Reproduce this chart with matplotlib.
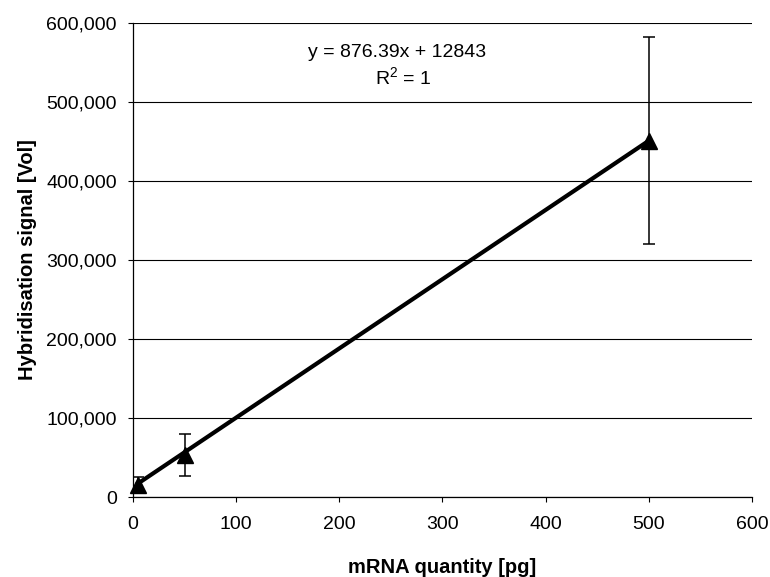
import numpy as np
import matplotlib
matplotlib.use('Agg')
import matplotlib.pyplot as plt
from matplotlib.ticker import StrMethodFormatter

plt.rcParams['font.family'] = ['Liberation Sans', 'DejaVu Sans']
plt.rcParams['mathtext.default'] = 'regular'

# data
mrna_pg = [5, 50, 500]
signal = [15000, 53000, 451000]
signal_err = [10000, 26500, 131000]

# trendline as printed on the chart
trend_slope = 876.39
trend_intercept = 12843
trend_label = 'y = 876.39x + 12843'
r2_label = 'R$^2$ = 1'

x_ticks = [0, 100, 200, 300, 400, 500, 600]
y_ticks = [0, 100000, 200000, 300000, 400000, 500000, 600000]

fig = plt.figure(figsize=(7.7, 5.77), dpi=100)
ax = fig.add_axes([0.1727, 0.1386, 0.8039, 0.8215])

# gridlines
ax.set_axisbelow(True)
ax.yaxis.grid(True, color='black', linewidth=0.8)

# trendline
xt = np.array([min(mrna_pg), max(mrna_pg)])
ax.plot(xt, trend_slope * xt + trend_intercept, color='black', linewidth=3.0, zorder=3)

# error bars + markers
ax.errorbar(mrna_pg, signal, yerr=signal_err, fmt='none', ecolor='black',
            elinewidth=1.1, capsize=4.5, capthick=1.1, zorder=4)
ax.plot(mrna_pg, signal, linestyle='none', marker='^', markersize=11,
        color='black', zorder=5, clip_on=False)

ax.text(256, 563000, trend_label, ha='center', va='center', fontsize=14)
ax.text(262, 532000, r2_label, ha='center', va='center', fontsize=14)

ax.set_xlim(0, 600)
ax.set_ylim(0, 600000)
ax.set_xticks(x_ticks)
ax.set_yticks(y_ticks)
ax.yaxis.set_major_formatter(StrMethodFormatter('{x:,.0f}'))

ax.spines['top'].set_visible(False)
ax.spines['right'].set_visible(False)
ax.spines['left'].set_linewidth(0.9)
ax.spines['bottom'].set_linewidth(0.9)
ax.tick_params(axis='both', direction='out', length=3.6, width=0.8, labelsize=14)
ax.tick_params(axis='x', pad=10)
ax.tick_params(axis='y', pad=8)

ax.set_xlabel('mRNA quantity [pg]', fontsize=14.5, fontweight='bold', labelpad=18)
ax.set_ylabel('Hybridisation signal [Vol]', fontsize=14.5, fontweight='bold', labelpad=7)

fig.savefig('out.png', dpi=100)
